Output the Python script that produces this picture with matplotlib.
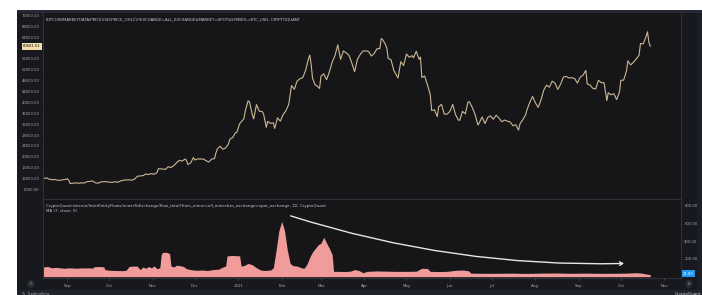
import matplotlib
matplotlib.use('Agg')
import matplotlib.pyplot as plt
import matplotlib.dates as mdates
import pandas as pd
from matplotlib.patches import Rectangle, FancyArrowPatch

# ---------------- data ----------------
price_dates = [
 '2020-08-15','2020-08-17','2020-08-19','2020-08-21','2020-08-23','2020-08-25','2020-08-27','2020-08-29','2020-08-31',
 '2020-09-01','2020-09-02','2020-09-03','2020-09-05','2020-09-07','2020-09-09','2020-09-11','2020-09-13','2020-09-15',
 '2020-09-17','2020-09-19','2020-09-21','2020-09-23','2020-09-25','2020-09-27','2020-09-29','2020-10-01','2020-10-03',
 '2020-10-05','2020-10-07','2020-10-09','2020-10-11','2020-10-13','2020-10-15','2020-10-17','2020-10-19','2020-10-21',
 '2020-10-23','2020-10-25','2020-10-27','2020-10-29','2020-10-31','2020-11-02','2020-11-04','2020-11-05','2020-11-06',
 '2020-11-08','2020-11-10','2020-11-12','2020-11-14','2020-11-16','2020-11-18','2020-11-20','2020-11-22','2020-11-24',
 '2020-11-25','2020-11-26','2020-11-28','2020-11-30','2020-12-01','2020-12-03','2020-12-05','2020-12-07','2020-12-09',
 '2020-12-11','2020-12-13','2020-12-15','2020-12-16','2020-12-17','2020-12-19','2020-12-21','2020-12-23','2020-12-25',
 '2020-12-26','2020-12-28','2020-12-30','2020-12-31','2021-01-02','2021-01-03','2021-01-05','2021-01-06','2021-01-08',
 '2021-01-09','2021-01-11','2021-01-12','2021-01-14','2021-01-16','2021-01-18','2021-01-19','2021-01-21','2021-01-22',
 '2021-01-24','2021-01-26','2021-01-27','2021-01-29','2021-01-31','2021-02-02','2021-02-04','2021-02-06','2021-02-08',
 '2021-02-10','2021-02-12','2021-02-14','2021-02-16','2021-02-18','2021-02-20','2021-02-21','2021-02-22','2021-02-23',
 '2021-02-25','2021-02-26','2021-02-28','2021-03-01','2021-03-03','2021-03-05','2021-03-07','2021-03-09','2021-03-11',
 '2021-03-13','2021-03-15','2021-03-17','2021-03-19','2021-03-21','2021-03-23','2021-03-25','2021-03-27','2021-03-29',
 '2021-03-31','2021-04-02','2021-04-04','2021-04-06','2021-04-08','2021-04-10','2021-04-12','2021-04-13','2021-04-14',
 '2021-04-16','2021-04-17','2021-04-18','2021-04-20','2021-04-22','2021-04-25','2021-04-27','2021-04-29','2021-05-01',
 '2021-05-03','2021-05-05','2021-05-06','2021-05-08','2021-05-10','2021-05-11','2021-05-12','2021-05-14','2021-05-16',
 '2021-05-18','2021-05-19','2021-05-21','2021-05-23','2021-05-24','2021-05-26','2021-05-28','2021-05-30','2021-06-01',
 '2021-06-03','2021-06-05','2021-06-07','2021-06-08','2021-06-10','2021-06-12','2021-06-14','2021-06-15','2021-06-17',
 '2021-06-19','2021-06-21','2021-06-22','2021-06-24','2021-06-26','2021-06-28','2021-06-30','2021-07-02','2021-07-04',
 '2021-07-06','2021-07-08','2021-07-10','2021-07-12','2021-07-14','2021-07-16','2021-07-18','2021-07-20','2021-07-21',
 '2021-07-23','2021-07-25','2021-07-26','2021-07-28','2021-07-30','2021-08-01','2021-08-03','2021-08-05','2021-08-07',
 '2021-08-09','2021-08-11','2021-08-13','2021-08-15','2021-08-17','2021-08-19','2021-08-21','2021-08-23','2021-08-25',
 '2021-08-27','2021-08-29','2021-08-31','2021-09-02','2021-09-04','2021-09-06','2021-09-07','2021-09-09','2021-09-11',
 '2021-09-13','2021-09-15','2021-09-17','2021-09-19','2021-09-21','2021-09-22','2021-09-24','2021-09-26','2021-09-28',
 '2021-09-30','2021-10-01','2021-10-03','2021-10-05','2021-10-06','2021-10-08','2021-10-10','2021-10-12','2021-10-14',
 '2021-10-15','2021-10-17','2021-10-19','2021-10-20','2021-10-21','2021-10-22']
price_values = [
 11850,12260,11750,11520,11640,11360,11330,11530,11650,
 11920,11390,10170,10280,10370,10230,10360,10330,10790,
 10950,11080,10420,10230,10740,10770,10840,10620,10570,
 10790,10600,11060,11380,11430,11500,11360,11750,12820,
 12930,13030,13650,13450,13780,13550,14150,15590,15560,
 15480,15330,16300,16060,16720,17800,18680,18400,19150,
 18720,17150,17720,19700,18800,19220,19150,19190,18550,
 18040,19150,19270,21310,22800,23860,22740,23240,24700,
 26440,27080,28840,29000,32180,32780,33960,36820,40600,
 40240,35550,33940,39190,36770,36630,35900,30830,33000,
 32290,32500,30430,34300,33110,35510,36930,39260,46200,
 44840,47880,48720,49150,51680,55890,57410,54080,48890,
 46340,46190,45140,49630,50520,48380,51210,54820,57230,
 61190,55850,58950,58250,57350,54530,51300,55820,57630,
 58920,58970,58760,57060,58030,59770,59790,63500,63110,
 61410,60010,56150,55720,51760,49000,54990,53580,57830,
 56620,57200,56400,58830,55860,56700,49150,49720,46430,
 42900,37000,37290,34770,38400,39280,35680,35680,36690,
 39240,35520,33570,33400,36690,35800,40220,40160,38100,
 35510,31680,32500,34660,32190,34440,35040,33800,35290,
 34240,32880,33510,33100,32820,31380,31780,29790,32110,
 33590,35400,37270,39990,42200,39880,38150,40870,44560,
 46350,45600,47820,47100,44800,46720,49320,49550,48990,
 49070,48810,47100,49270,50020,51790,46810,46400,45170,
 44960,48150,47260,47260,40690,43570,42810,43210,41030,
 43790,48140,48200,51520,55330,53800,54770,56000,57400,
 61700,61530,64280,66000,62210,60680]

flow_dates = [
 '2020-08-15','2020-08-18','2020-08-21','2020-08-24','2020-08-27','2020-08-30','2020-09-02','2020-09-05','2020-09-08',
 '2020-09-11','2020-09-14','2020-09-17','2020-09-19','2020-09-20','2020-09-24','2020-09-27','2020-09-28','2020-10-02',
 '2020-10-06','2020-10-10','2020-10-13','2020-10-15','2020-10-18','2020-10-21','2020-10-23','2020-10-25','2020-10-27',
 '2020-10-29','2020-10-31','2020-11-02','2020-11-04','2020-11-06','2020-11-07','2020-11-08','2020-11-11','2020-11-13',
 '2020-11-14','2020-11-16','2020-11-18','2020-11-20','2020-11-23','2020-11-25','2020-11-28','2020-12-02','2020-12-06',
 '2020-12-10','2020-12-14','2020-12-18','2020-12-21','2020-12-23','2020-12-24','2020-12-28','2021-01-02','2021-01-03',
 '2021-01-05','2021-01-08','2021-01-11','2021-01-14','2021-01-17','2021-01-20','2021-01-24','2021-01-26','2021-01-28',
 '2021-01-30','2021-02-01','2021-02-03','2021-02-05','2021-02-07','2021-02-09','2021-02-12','2021-02-15','2021-02-17',
 '2021-02-19','2021-02-21','2021-02-23','2021-02-25','2021-02-27','2021-03-01','2021-03-03','2021-03-05','2021-03-07',
 '2021-03-09','2021-03-10','2021-03-14','2021-03-18','2021-03-22','2021-03-25','2021-03-28','2021-03-31','2021-04-03',
 '2021-04-10','2021-04-17','2021-04-24','2021-05-01','2021-05-08','2021-05-12','2021-05-16','2021-05-18','2021-05-24',
 '2021-05-30','2021-06-05','2021-06-10','2021-06-14','2021-06-16','2021-06-25','2021-07-05','2021-07-15','2021-07-25',
 '2021-08-05','2021-08-15','2021-08-25','2021-09-05','2021-09-15','2021-09-25','2021-10-05','2021-10-12','2021-10-15',
 '2021-10-22']
flow_values = [
 110,115,100,105,100,95,100,98,95,
 100,98,100,95,112,115,110,78,72,
 70,68,72,115,120,118,80,110,95,
 115,100,120,90,100,250,275,275,260,
 120,110,130,125,115,90,80,72,75,
 70,80,85,110,120,235,240,235,120,
 125,150,135,100,75,70,75,100,300,
 520,625,520,300,150,125,120,100,95,
 140,220,280,320,360,380,445,380,320,
 250,60,60,58,62,80,70,45,60,
 65,62,60,60,62,95,92,60,58,
 60,72,75,68,40,38,38,40,37,
 40,42,38,40,38,38,40,45,42,
 22]

price_ticks = [8000, 12000, 16000, 20000, 24000, 28000, 32000, 36000, 40000,
               44000, 48000, 52000, 56000, 64000, 68000, 72000]
flow_ticks = [200, 400, 600, 800]
month_ticks = ['2020-09-01','2020-10-01','2020-11-01','2020-12-01','2021-01-01','2021-02-01',
               '2021-03-01','2021-04-01','2021-05-01','2021-06-01','2021-07-01','2021-08-01',
               '2021-09-01','2021-10-01','2021-11-01']
month_labels = ['Sep','Oct','Nov','Dec','2021','Feb','Mar','Apr','May','Jun','Jul','Aug','Sep','Oct','Nov']
last_price = 60681.61
last_flow = 21.83
price_title = 'BITCOIN/MARKETDATA/PRICEUSD/PRICE_OHLCV?EXCHANGE=ALL_EXCHANGE&MARKET=SPOT&SYMBOL=BTC_USD, CRYPTOQUANT'
flow_title = 'CryptoQuant:bitcoin/InterEntityFlows/minerToExchange/flow_total?from_miner=all_miner&to_exchange=spot_exchange, 1D, CryptoQuant'
flow_sub = 'MA (7, close, 0)'

# ---------------- figure ----------------
W, H = 702, 295
fig = plt.figure(figsize=(W/100, H/100), dpi=100)
fig.patch.set_facecolor('white')

def fx(x): return x / W
def fy(y): return 1 - y / H

BG = '#161619'
OUT = '#18191e'
GRID = '#2e313a'
TXT = '#a4a7af'

# dark panel
fig.add_artist(Rectangle((fx(17), 0), 1 - fx(17), fy(10), transform=fig.transFigure,
                         facecolor=OUT, edgecolor='none', zorder=0))
fig.add_artist(Rectangle((fx(17), fy(12.5)), 1 - fx(17), fy(10) - fy(12.5), transform=fig.transFigure,
                         facecolor='#262933', edgecolor='none', zorder=0))
# bottom bar
fig.add_artist(Rectangle((fx(17), 0), 1 - fx(17), fy(290), transform=fig.transFigure,
                         facecolor='#1f222b', edgecolor='none', zorder=0))
# right strip
fig.add_artist(Rectangle((fx(697), fy(290)), 1 - fx(697), fy(12.5) - fy(290), transform=fig.transFigure,
                         facecolor='#1c1e25', edgecolor='none', zorder=0))

ax1 = fig.add_axes([fx(43), fy(199), fx(681) - fx(43), fy(12.5) - fy(199)])
ax2 = fig.add_axes([fx(43), fy(278), fx(681) - fx(43), fy(199) - fy(278)], sharex=ax1)

pdates = pd.to_datetime(price_dates)
fdates = pd.to_datetime(flow_dates)

for ax in (ax1, ax2):
    ax.set_facecolor(BG)
    for s in ax.spines.values():
        s.set_color(GRID)
        s.set_linewidth(0.8)

ax1.spines['top'].set_visible(False)

ax1.plot(pdates, price_values, color='#cbb793', lw=0.8)
ax1.set_ylim(4440, 73100)
ax1.set_yticks(price_ticks)
ax1.set_yticklabels([f'{v:.2f}' for v in price_ticks])
ax1.tick_params(axis='y', colors=GRID, labelcolor=TXT, labelsize=2.7, length=1.6, width=0.5, pad=0.8)
ax1.tick_params(axis='x', bottom=False, labelbottom=False)

ax2.fill_between(fdates, 0, flow_values, color='#f09c9b', lw=0, zorder=2)
ax2.set_ylim(-15, 878)
ax2.yaxis.tick_right()
ax2.set_yticks(flow_ticks)
ax2.set_yticklabels([f'{v:.2f}' for v in flow_ticks])
ax2.tick_params(axis='y', colors=GRID, labelcolor=TXT, labelsize=2.7, length=1.6, width=0.5, pad=0.8)
ax2.set_xticks(pd.to_datetime(month_ticks))
ax2.set_xticklabels(month_labels)
ax2.tick_params(axis='x', colors='#55585f', labelcolor=TXT, labelsize=2.9, length=1.5, width=0.6, pad=3.0)
ax2.set_xlim(pd.Timestamp('2020-08-14 16:00'), pd.Timestamp('2021-11-12 22:00'))

# last value labels
ax1.annotate(f'{last_price:.2f}', xy=(0, last_price), xycoords=('axes fraction', 'data'),
             xytext=(-1.5, 0), textcoords='offset points', ha='right', va='center',
             fontsize=2.7, color='#1a1a1a',
             bbox=dict(boxstyle='square,pad=0.35', fc='#f3dcae', ec='none'))
ax2.annotate(f'{last_flow:.2f}', xy=(1, last_flow), xycoords=('axes fraction', 'data'),
             xytext=(1.5, 0.8), textcoords='offset points', ha='left', va='center',
             fontsize=2.7, color='white',
             bbox=dict(boxstyle='square,pad=0.35', fc='#2196f3', ec='none'))

# titles
t1 = fig.text(fx(46), fy(19), price_title, fontsize=3, color='#c6c8ce', ha='left', va='center')
t2 = fig.text(fx(46), fy(205.5), flow_title, fontsize=3, color='#c6c8ce', ha='left', va='center')
t3 = fig.text(fx(46), fy(211.3), flow_sub, fontsize=3, color='#c6c8ce', ha='left', va='center')

# arrow (annotation)
arr = FancyArrowPatch((0.384, 0.797), (0.915, 0.185), transform=ax2.transAxes,
                      connectionstyle='arc3,rad=0.085', arrowstyle='->,head_length=2.2,head_width=1.3',
                      color='#e6e6e6', lw=1.0, zorder=5)
ax2.add_patch(arr)

# small widgets
fig.text(fx(31), fy(284), 'Z', fontsize=2.6, color='#8a8d95', ha='center', va='center',
         bbox=dict(boxstyle='circle,pad=0.5', fc='#2a2d36', ec='none'))
fig.text(fx(689), fy(284), 'A', fontsize=2.6, color='#8a8d95', ha='center', va='center',
         bbox=dict(boxstyle='circle,pad=0.5', fc='#2a2d36', ec='none'))
fig.text(fx(21), fy(294.5), 'Tv  TradingView', fontsize=2.6, color='#9aa0aa', ha='left', va='center')
fig.text(fx(701), fy(294.5), 'CryptoQuant', fontsize=3.0, color='#d0d3d8', ha='right', va='center')

fig.canvas.draw()
r = fig.canvas.get_renderer()
def fit(t, width_px):
    bb = t.get_window_extent(r)
    t.set_fontsize(t.get_fontsize() * width_px / bb.width)
fit(t1, 249)
fit(t2, 272)
fit(t3, 30)

fig.savefig('out.png', dpi=100, facecolor='white')
